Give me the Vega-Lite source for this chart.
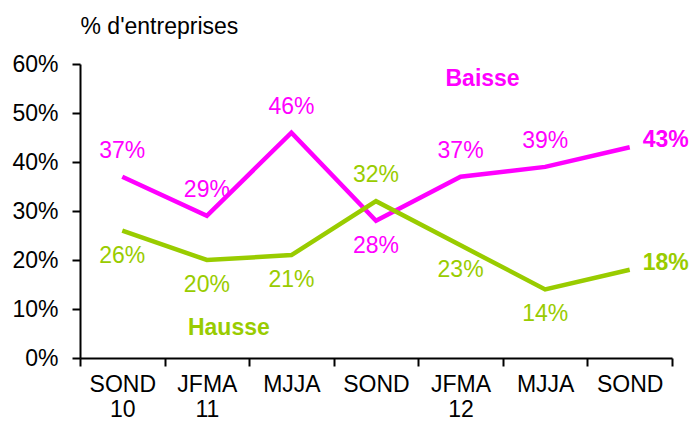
{
  "$schema": "https://vega.github.io/schema/vega-lite/v6.json",
  "autosize": {"type": "none"},
  "width": 592,
  "height": 294,
  "padding": {"left": 80, "top": 64, "right": 24, "bottom": 65},
  "background": "white",
  "config": {
    "view": {"stroke": null},
    "font": "Liberation Sans",
    "text": {"font": "Liberation Sans", "fontSize": 23}
  },
  "datasets": {
    "series": [
      {"period": "SOND 10", "serie": "Baisse", "value": 0.37},
      {"period": "JFMA 11", "serie": "Baisse", "value": 0.29},
      {"period": "MJJA 11", "serie": "Baisse", "value": 0.46},
      {"period": "SOND 11", "serie": "Baisse", "value": 0.28},
      {"period": "JFMA 12", "serie": "Baisse", "value": 0.37},
      {"period": "MJJA 12", "serie": "Baisse", "value": 0.39},
      {"period": "SOND 12", "serie": "Baisse", "value": 0.43},
      {"period": "SOND 10", "serie": "Hausse", "value": 0.26},
      {"period": "JFMA 11", "serie": "Hausse", "value": 0.20},
      {"period": "MJJA 11", "serie": "Hausse", "value": 0.21},
      {"period": "SOND 11", "serie": "Hausse", "value": 0.32},
      {"period": "JFMA 12", "serie": "Hausse", "value": 0.23},
      {"period": "MJJA 12", "serie": "Hausse", "value": 0.14},
      {"period": "SOND 12", "serie": "Hausse", "value": 0.18}
    ],
    "names": [
      {"period": "JFMA 12", "serie": "Baisse", "value": 0.57},
      {"period": "JFMA 11", "serie": "Hausse", "value": 0.061}
    ]
  },
  "encoding": {
    "x": {
      "field": "period",
      "type": "nominal",
      "sort": null,
      "scale": {"domain": ["SOND 10", "JFMA 11", "MJJA 11", "SOND 11", "JFMA 12", "MJJA 12", "SOND 12"], "paddingInner": 0, "paddingOuter": 0},
      "axis": {
        "title": null,
        "labelAngle": 0,
        "tickBand": "extent",
        "labelExpr": "{'SOND 10': ['SOND', '10'], 'JFMA 11': ['JFMA', '11'], 'MJJA 11': 'MJJA', 'SOND 11': 'SOND', 'JFMA 12': ['JFMA', '12'], 'MJJA 12': 'MJJA', 'SOND 12': 'SOND'}[datum.value]",
        "labelFont": "Liberation Sans",
        "labelFontSize": 23,
        "labelColor": "black",
        "labelPadding": 7,
        "labelLineHeight": 25,
        "domainColor": "black",
        "domainWidth": 2,
        "tickColor": "black",
        "tickWidth": 2,
        "tickSize": 8,
        "grid": false
      }
    },
    "y": {
      "field": "value",
      "type": "quantitative",
      "scale": {"domain": [0, 0.6], "nice": false},
      "axis": {
        "values": [0, 0.1, 0.2, 0.3, 0.4, 0.5, 0.6],
        "format": ".0%",
        "title": "% d'entreprises",
        "titleAngle": 0,
        "titleAlign": "left",
        "titleBaseline": "alphabetic",
        "titleX": 0,
        "titleY": -31,
        "titleFont": "Liberation Sans",
        "titleFontSize": 23,
        "titleFontWeight": "normal",
        "titleColor": "black",
        "labelFont": "Liberation Sans",
        "labelFontSize": 23,
        "labelColor": "black",
        "labelPadding": 14,
        "domainColor": "black",
        "domainWidth": 2,
        "tickColor": "black",
        "tickWidth": 2,
        "tickSize": 8,
        "grid": false
      }
    },
    "color": {
      "field": "serie",
      "type": "nominal",
      "scale": {"domain": ["Baisse", "Hausse"], "range": ["#FF00FF", "#99CC00"]},
      "legend": null
    }
  },
  "layer": [
    {
      "data": {"name": "series"},
      "mark": {"type": "line", "strokeWidth": 4.5, "strokeCap": "butt", "strokeJoin": "miter"}
    },
    {
      "data": {"name": "series"},
      "transform": [{"filter": "(datum.serie == 'Baisse' && datum.period != 'SOND 11' && datum.period != 'SOND 12') || (datum.serie == 'Hausse' && datum.period == 'SOND 11')"}],
      "mark": {"type": "text", "dy": -26, "baseline": "middle"},
      "encoding": {"text": {"field": "value", "type": "quantitative", "format": ".0%"}}
    },
    {
      "data": {"name": "series"},
      "transform": [{"filter": "(datum.serie == 'Hausse' && datum.period != 'SOND 11' && datum.period != 'SOND 12') || (datum.serie == 'Baisse' && datum.period == 'SOND 11')"}],
      "mark": {"type": "text", "dy": 25, "baseline": "middle"},
      "encoding": {"text": {"field": "value", "type": "quantitative", "format": ".0%"}}
    },
    {
      "data": {"name": "series"},
      "transform": [{"filter": "datum.period == 'SOND 12'"}],
      "mark": {"type": "text", "dx": 13, "dy": -7, "align": "left", "baseline": "middle", "fontWeight": "bold"},
      "encoding": {"text": {"field": "value", "type": "quantitative", "format": ".0%"}}
    },
    {
      "data": {"name": "names"},
      "mark": {"type": "text", "dx": 22, "baseline": "middle", "fontWeight": "bold"},
      "encoding": {"text": {"field": "serie", "type": "nominal"}}
    }
  ]
}
